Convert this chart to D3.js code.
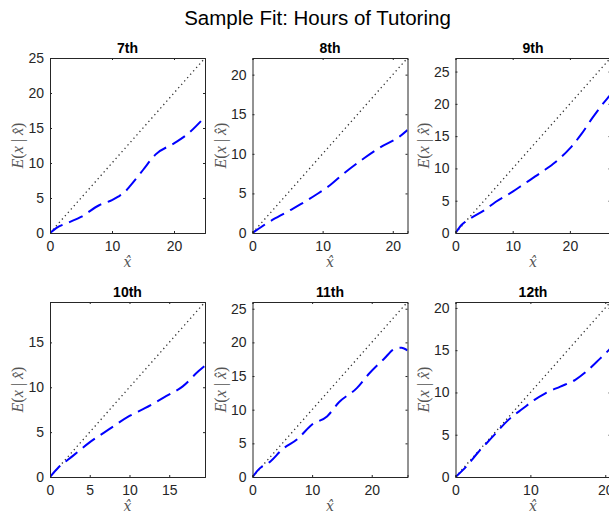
<!DOCTYPE html>
<html>
<head>
<meta charset="utf-8">
<script src="https://cdn.jsdelivr.net/npm/d3@7"></script>
<style>
  html, body { margin: 0; padding: 0; background: #fff; }
  svg { display: block; }
</style>
</head>
<body>
<div id="chart"></div>
<script>
const chartTitle = "Sample Fit: Hours of Tutoring";
const panelTitles = ["7th", "8th", "9th", "10th", "11th", "12th"];
const axisMax = [25, 22.1, 27.1, 19.5, 26.0, 20.7];
const xTicks = [[0, 10, 20], [0, 10, 20], [0, 10, 20], [0, 5, 10, 15], [0, 10, 20], [0, 10, 20]];
const yTicks = [[0, 5, 10, 15, 20, 25], [0, 5, 10, 15, 20], [0, 5, 10, 15, 20, 25], [0, 5, 10, 15], [0, 5, 10, 15, 20, 25], [0, 5, 10, 15, 20]];

const fitX7 = [0, 1, 3, 5, 8, 10, 11, 12, 13, 15, 17, 20, 22, 25];
const fitY7 = [0, 0.7, 1.5, 2.3, 4, 4.7, 5.2, 5.8, 6.8, 9, 11.2, 12.8, 14, 16.6];
const fitX8 = [0, 2, 5, 7, 9, 11, 13, 16, 18, 21, 22.1];
const fitY8 = [0, 1.2, 2.7, 3.7, 4.8, 6, 7.5, 9.5, 10.7, 12.2, 13];
const fitX9 = [0, 1, 2.5, 5, 7, 10, 12, 15, 17.5, 20, 22, 24, 26.6, 27.1];
const fitY9 = [0, 1.2, 2.2, 3.5, 4.8, 6.4, 7.6, 9.4, 11, 13.1, 15.3, 17.9, 20.9, 21.4];
const fitX10 = [0, 1, 2.8, 4.9, 7.4, 10, 12, 14.6, 16.7, 18.7, 19.5];
const fitY10 = [0, 1, 2.3, 3.8, 5.3, 6.8, 7.7, 9, 10.1, 11.8, 12.4];
const fitX11 = [0, 1, 3, 5, 7.5, 10, 12.5, 14.5, 17.5, 19.5, 22, 24, 25, 26];
const fitY11 = [0, 1.1, 2.3, 4.1, 5.6, 7.8, 9, 11.1, 13.2, 15.3, 17.5, 19.1, 19.2, 18.8];
const fitX12 = [0, 1.5, 3, 5, 7, 9, 10.5, 12, 14, 16, 17.5, 19.3, 20.7];
const fitY12 = [0, 1.3, 2.9, 4.8, 6.7, 8.1, 9.1, 9.9, 10.7, 11.5, 12.5, 14, 15.2];

const fitXs = [fitX7, fitX8, fitX9, fitX10, fitX11, fitX12];
const fitYs = [fitY7, fitY8, fitY9, fitY10, fitY11, fitY12];

const W = 609, H = 519;
const svg = d3.select("#chart").append("svg").attr("width", W).attr("height", H)
  .style("font-family", "'Liberation Sans', Arial, sans-serif");

svg.append("text").attr("x", 317.5).attr("y", 25).attr("text-anchor", "middle")
  .attr("font-size", 20.5).attr("fill", "#000").text(chartTitle);

const lefts = [50, 252.5, 455.5];
const tops = [58, 302];
const pw = 155, ph = 175;
const axColor = "#262626";
const tickLen = 2;
const serif = "'Liberation Serif', 'DejaVu Serif', serif";

panelTitles.forEach((t, i) => {
  const col = i % 3, row = Math.floor(i / 3);
  const g = svg.append("g").attr("transform", `translate(${lefts[col]},${tops[row]})`);
  const x = d3.scaleLinear().domain([0, axisMax[i]]).range([0, pw]);
  const y = d3.scaleLinear().domain([0, axisMax[i]]).range([ph, 0]);
  const clipId = "clip" + i;
  g.append("clipPath").attr("id", clipId).append("rect").attr("width", pw).attr("height", ph);

  g.append("rect").attr("width", pw).attr("height", ph).attr("fill", "#fff");

  const plot = g.append("g").attr("clip-path", `url(#${clipId})`);
  plot.append("path")
    .attr("d", d3.line()([[x(0), y(0)], [x(axisMax[i]), y(axisMax[i])]]))
    .attr("stroke", "#333").attr("stroke-width", 1.3).attr("stroke-dasharray", "1.3,3.2")
    .attr("fill", "none");
  const pts = fitXs[i].map((v, k) => [v, fitYs[i][k]]);
  plot.append("path")
    .attr("d", d3.line().x(d => x(d[0])).y(d => y(d[1])).curve(d3.curveMonotoneX)(pts))
    .attr("stroke", "#0000ff").attr("stroke-width", 2).attr("stroke-dasharray", "15,7")
    .attr("fill", "none");

  const xb = g.append("g").attr("transform", `translate(0,${ph})`)
    .call(d3.axisBottom(x).tickValues(xTicks[i]).tickSize(-tickLen).tickPadding(8).tickFormat(d3.format("d")));
  const xt = g.append("g")
    .call(d3.axisTop(x).tickValues(xTicks[i]).tickSize(-tickLen).tickFormat(""));
  const yl = g.append("g")
    .call(d3.axisLeft(y).tickValues(yTicks[i]).tickSize(-tickLen).tickPadding(6).tickFormat(d3.format("d")));
  const yr = g.append("g").attr("transform", `translate(${pw},0)`)
    .call(d3.axisRight(y).tickValues(yTicks[i]).tickSize(-tickLen).tickFormat(""));
  [xb, xt, yl, yr].forEach(a => {
    a.select(".domain").attr("stroke", axColor).attr("stroke-width", 1);
    a.selectAll(".tick line").attr("stroke", axColor);
    a.selectAll(".tick text").attr("fill", axColor).attr("font-size", 14)
      .style("font-family", "'Liberation Sans', Arial, sans-serif");
  });
  g.append("text").attr("x", pw / 2).attr("y", -5).attr("text-anchor", "middle")
    .attr("font-size", 14).attr("font-weight", "bold").attr("fill", "#000").text(t);

  g.append("text").attr("x", pw / 2).attr("y", ph + 34).attr("text-anchor", "middle")
    .attr("font-size", 14).attr("fill", "#555")
    .style("font-family", "'DejaVu Serif', 'Liberation Serif', serif").style("font-style", "italic")
    .text("x\u0302");
  const yt = g.append("text")
    .attr("transform", `translate(-27,${ph / 2}) rotate(-90)`)
    .attr("text-anchor", "middle").attr("font-size", 16).attr("fill", "#555")
    .style("font-family", serif);
  [["E", true], ["(", false], ["x", true], [" | ", false], ["x\u0302", true], [")", false]].forEach(([s, it]) => {
    yt.append("tspan").style("font-style", it ? "italic" : "normal").text(s);
  });
});
</script>
</body>
</html>
